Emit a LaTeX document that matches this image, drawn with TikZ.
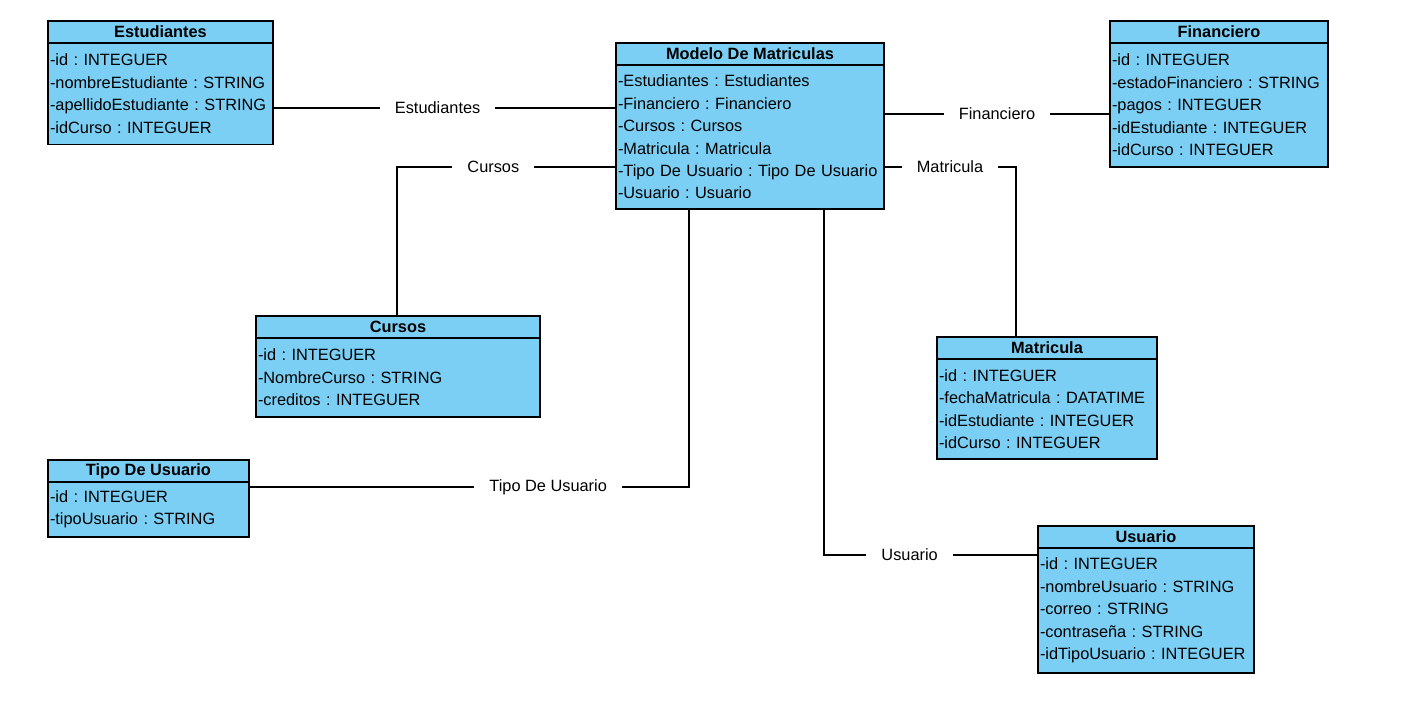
\documentclass[tikz,border=0pt]{standalone}
\usepackage{fontspec}
\setmainfont{Liberation Sans}
\usetikzlibrary{positioning}
\definecolor{classblue}{RGB}{124,207,244}
\frenchspacing

\begin{document}
\begin{tikzpicture}[x=0.02cm, y=-0.02cm,
			umlFont/.style={font=\fontsize{9.3}{12.76}\selectfont},
			classHead/.style={draw, fill=classblue, line width=0.85pt, outer sep=0pt, inner sep=0pt, anchor=north west, minimum width=#1, minimum height=0.44cm, font=\fontsize{9.3}{12.76}\selectfont\bfseries},
			classBody/.style={draw, fill=classblue, line width=0.85pt, outer sep=0pt, inner xsep=0.04cm, inner ysep=0pt, text width=#1, align=left, umlFont},
			linkStyle/.style={line width=0.7pt},
			linkLabel/.style={fill=white, inner xsep=0.3cm, inner ysep=1pt, umlFont}]
			
			\useasboundingbox (0,0) rectangle (1408,721);
			
			\node[classHead=4.5cm] (estH) at (48,21) {Estudiantes};
			\node[classBody=4.42cm, minimum height=2.03cm, below=0pt of estH] (estB) {-id : INTEGUER\\-nombreEstudiante : STRING\\-apellidoEstudiante : STRING\\-idCurso : INTEGUER};
			
			\node[classHead=5.36cm] (modH) at (616,43) {Modelo De Matriculas};
			\node[classBody=5.28cm, minimum height=2.88cm, below=0pt of modH] (modB) {-Estudiantes : Estudiantes\\-Financiero : Financiero\\-Cursos : Cursos\\-Matricula : Matricula\\-Tipo De Usuario : Tipo De Usuario\\-Usuario : Usuario};
			
			\node[classHead=4.36cm] (finH) at (1110,21) {Financiero};
			\node[classBody=4.28cm, minimum height=2.48cm, below=0pt of finH] (finB) {-id : INTEGUER\\-estadoFinanciero : STRING\\-pagos : INTEGUER\\-idEstudiante : INTEGUER\\-idCurso : INTEGUER};
			
			\node[classHead=5.68cm] (curH) at (256,316) {Cursos};
			\node[classBody=5.6cm, minimum height=1.58cm, below=0pt of curH] (curB) {-id : INTEGUER\\-NombreCurso : STRING\\-creditos : INTEGUER};
			
			\node[classHead=4.4cm] (matH) at (937,337) {Matricula};
			\node[classBody=4.32cm, minimum height=2.0cm, below=0pt of matH] (matB) {-id : INTEGUER\\-fechaMatricula : DATATIME\\-idEstudiante : INTEGUER\\-idCurso : INTEGUER};
			
			\node[classHead=4.02cm] (tipH) at (48,460) {Tipo De Usuario};
			\node[classBody=3.94cm, minimum height=1.1cm, below=0pt of tipH] (tipB) {-id : INTEGUER\\-tipoUsuario : STRING};
			
			\node[classHead=4.32cm] (usuH) at (1038,526) {Usuario};
			\node[classBody=4.24cm, minimum height=2.5cm, below=0pt of usuH] (usuB) {-id : INTEGUER\\-nombreUsuario : STRING\\-correo : STRING\\-contraseña : STRING\\-idTipoUsuario : INTEGUER};
			
			% associations
			\begin{scope}[every node/.style={linkLabel}]
				\draw[linkStyle] (estB.east |- 0,108) -- node[pos=0.48] (lEst) {Estudiantes} (modB.west |- 0,108);
				\draw[linkStyle] (curH.north -| 397,0) |- node[pos=0.72] (lCur) {Cursos} (modB.west |- 0,167);
				\draw[linkStyle] (modB.east |- 0,114) -- node[pos=0.5] (lFin) {Financiero} (finB.west |- 0,114);
				\draw[linkStyle] (modB.east |- 0,167) -| node[pos=0.25] (lMat) {Matricula} (matH.north -| 1016,0);
				\draw[linkStyle] (tipB.east |- 0,487) -| node[pos=0.34] (lTip) {Tipo De Usuario} (modB.south -| 689,0);
				\draw[linkStyle] (modB.south -| 824,0) |- node[pos=0.7] (lUsu) {Usuario} (usuB.west |- 0,555);
			\end{scope}
		\end{tikzpicture}
\end{document}
